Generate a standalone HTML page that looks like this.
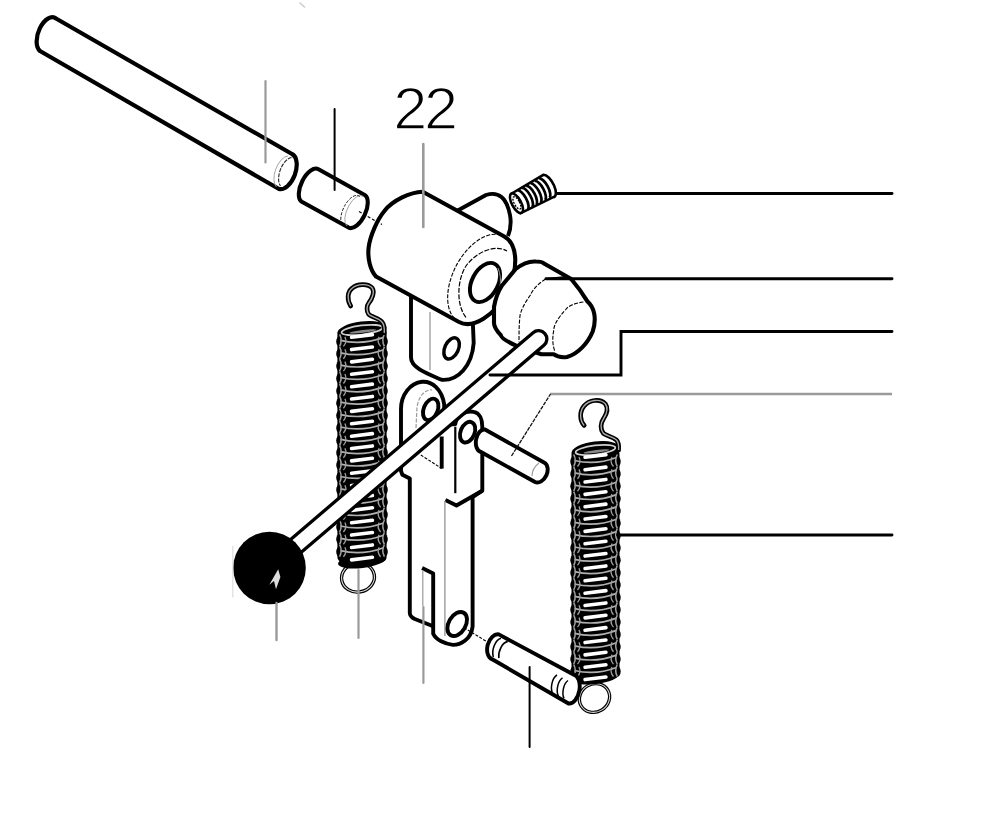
<!DOCTYPE html>
<html><head><meta charset="utf-8"><style>
html,body{margin:0;padding:0;background:#fff;}
body{width:1000px;height:813px;overflow:hidden;position:relative;font-family:"Liberation Sans",sans-serif;}
svg{position:absolute;left:0;top:0;}
</style></head><body>
<svg width="1000" height="813" viewBox="0 0 1000 813">
<path d="M56,18.5 L292,154 A10.5 18.7 20.4 0 1 279,189 L40,51 A10 18.2 20.4 0 1 56,18.5 Z" fill="#fff" stroke="#000" stroke-width="4.2" stroke-linejoin="round"/>
<path d="M288,156 A9 17 20.4 0 0 276.5,187" fill="none" stroke="#9a9a9a" stroke-width="0.9"/>
<path d="M291.5,157.5 A8.5 16 20.4 0 0 280.5,186" fill="none" stroke="#222" stroke-width="1.1" stroke-dasharray="4 1.2"/>
<path d="M318.5,169.3 L364.7,195 A9 18.2 25.6 0 1 349,227.8 L301.8,201.8 A9 18.2 25.6 0 1 318.5,169.3 Z" fill="#fff" stroke="#000" stroke-width="4.1" stroke-linejoin="round"/>
<path d="M360,196.5 A8 16 25.6 0 0 343,226" fill="none" stroke="#000" stroke-width="0.9" stroke-dasharray="3 1.5"/>
<path d="M363.5,196.5 A7.5 15.5 25.6 0 0 347,226" fill="none" stroke="#9a9a9a" stroke-width="0.9"/>
<path d="M512.6,193 L543.4,174.8 A5 11.5 -28.4 0 1 553.2,197.2 L520.3,213.3 A5 11.5 -28.4 0 1 512.6,193 Z" fill="#fff" stroke="#000" stroke-width="2.6"/>
<path d="M517.1,190.6 A4.2 10.8 -28.4 0 1 527.4,209.6" fill="none" stroke="#000" stroke-width="2.7"/>
<path d="M521.5,188.2 A4.2 10.8 -28.4 0 1 531.8,207.2" fill="none" stroke="#000" stroke-width="2.7"/>
<path d="M525.9,185.9 A4.2 10.8 -28.4 0 1 536.2,204.8" fill="none" stroke="#000" stroke-width="2.7"/>
<path d="M530.3,183.5 A4.2 10.8 -28.4 0 1 540.5,202.5" fill="none" stroke="#000" stroke-width="2.7"/>
<path d="M534.7,181.1 A4.2 10.8 -28.4 0 1 544.9,200.1" fill="none" stroke="#000" stroke-width="2.7"/>
<path d="M539.1,178.7 A4.2 10.8 -28.4 0 1 549.3,197.7" fill="none" stroke="#000" stroke-width="2.7"/>
<ellipse cx="516.5" cy="203.2" rx="4.6" ry="10.8" transform="rotate(-28.4 516.5 203.2)" fill="#fff" stroke="#000" stroke-width="2.5"/>
<ellipse cx="517.0" cy="203.2" rx="2.7" ry="6.8" transform="rotate(-28.4 516.5 203.2)" fill="none" stroke="#000" stroke-width="1.4" stroke-dasharray="2 1.2"/>
<path d="M455,212 L486,195 Q505,189 510,215 Q512,226 508,236" fill="#fff" stroke="#000" stroke-width="3.9" stroke-linejoin="round"/>
<path d="M411,292 L411,357.6 C411,368 428,374 441.7,379.8 C458,381 472,366 473.7,342.9 L472.5,315 Z" fill="#fff" stroke="#000" stroke-width="3.9" stroke-linejoin="round"/>
<path d="M430,312 L430,370" stroke="#9a9a9a" stroke-width="1.3"/>
<ellipse cx="451.6" cy="348.4" rx="6.8" ry="11.2" transform="rotate(25 451.6 348.4)" fill="#fff" stroke="#000" stroke-width="3.5"/>
<path d="M422.7,191.7 L503.9,236.2 A28.5 48.4 27.6 0 1 459,322 L376,276.5 C370,270 367.5,258 368.6,247.7 C370,236 377,220 384.6,210.8 C392,201 410,192 422.7,191.7 Z" fill="#fff" stroke="#000" stroke-width="4.1" stroke-linejoin="round"/>
<path d="M459,322 A28.5 48.4 27.6 0 1 503.9,236.2" fill="none" stroke="#000" stroke-width="1.1" stroke-dasharray="4 1.5"/>
<path d="M466,317.4 C456,305 457,280 466,266 C476,252 495,244 507,251" fill="none" stroke="#000" stroke-width="1.2" stroke-dasharray="5 1.5"/>
<ellipse cx="485" cy="282.5" rx="13" ry="21" transform="rotate(27.6 485 282.5)" fill="#fff" stroke="#000" stroke-width="3.9"/>
<path d="M498,268 C503,280 500,295 493,302" fill="none" stroke="#9a9a9a" stroke-width="1"/>
<path d="M359,211.6 L382,224.5" stroke="#000" stroke-width="1.1" stroke-dasharray="3 2"/>
<path d="M401,471 L401,409 C401,395 410,383 422,381.8 C432,381 442,389 444.2,404.5 L444,425 L455.3,424 C456,416 466,410 473.7,411.9 C480,413 482.3,420 482.3,426.7 L482.3,490.7 L472.6,497 L472.6,626.4 C471,640 460,645 452.9,644.9 C445,644 436,640 433.2,633.8 L433.2,626.4 L430.7,625.2 L414.8,619 C411,617 409.8,615 409.8,612.9 L409.8,478.5 L402.4,474.8 Z" fill="#fff" stroke="#000" stroke-width="3.9" stroke-linejoin="round"/>
<path d="M416,428 L417,407 C419,396 424,390 431.9,389.8" fill="none" stroke="#9a9a9a" stroke-width="1.2" stroke-dasharray="4 1.5"/>
<ellipse cx="430.7" cy="409.4" rx="7" ry="11.2" transform="rotate(22 430.7 409.4)" fill="#fff" stroke="#000" stroke-width="3.9"/>
<ellipse cx="467.6" cy="432.2" rx="7" ry="10.8" transform="rotate(22 467.6 432.2)" fill="#fff" stroke="#000" stroke-width="3.9"/>
<path d="M441.7,436.5 L441.7,468.6" stroke="#000" stroke-width="3.9"/>
<path d="M420.8,455 L441.7,468.5" stroke="#000" stroke-width="1.1" stroke-dasharray="3 1.5"/>
<path d="M455.3,426.7 L455.3,493.2" stroke="#000" stroke-width="2.2"/>
<path d="M482.3,490.7 L456.5,505.5 L445.4,500" fill="none" stroke="#000" stroke-width="3.9" stroke-linejoin="round"/>
<path d="M444.9,501 L444.9,636" stroke="#9a9a9a" stroke-width="1.4"/>
<path d="M422.1,568 L433.2,573.5 L433.2,626.4" fill="none" stroke="#000" stroke-width="3.9" stroke-linejoin="round"/>
<path d="M422.8,570 L422.8,606" stroke="#9a9a9a" stroke-width="1.2"/>
<ellipse cx="457.2" cy="624" rx="8.5" ry="13" transform="rotate(30 457.2 624)" fill="#fff" stroke="#000" stroke-width="3.9"/>
<path d="M464,627.7 L486.1,641.2" stroke="#000" stroke-width="1.1" stroke-dasharray="3 1.5"/>
<path d="M485,429.5 L544,462.5 A7.5 10.7 24.8 0 1 535,482 L481,452 A7 11.4 10 0 1 485,429.5 Z" fill="#fff" stroke="#000" stroke-width="3.9" stroke-linejoin="round"/>
<path d="M532,476 C532,471 535,466 539,463" fill="none" stroke="#9a9a9a" stroke-width="1.1"/>
<ellipse cx="358" cy="577.5" rx="16.5" ry="14.5" transform="rotate(-10 358 577.5)" fill="none" stroke="#000" stroke-width="3.4"/>
<ellipse cx="358" cy="577.5" rx="16.5" ry="14.5" transform="rotate(-10 358 577.5)" fill="none" stroke="#ddd" stroke-width="1.1"/>
<ellipse cx="594.5" cy="698" rx="15.5" ry="14" transform="rotate(-30 594.5 698)" fill="none" stroke="#000" stroke-width="3.4"/>
<ellipse cx="594.5" cy="698" rx="15.5" ry="14" transform="rotate(-30 594.5 698)" fill="none" stroke="#ddd" stroke-width="1.1"/>
<rect x="337.4" y="329.0" width="49.2" height="233.0" rx="5" fill="#000"/>
<ellipse cx="362.0" cy="561.0" rx="24.1" ry="7" transform="rotate(-7 362 561.0)" fill="#000"/>
<ellipse cx="362.0" cy="330.0" rx="24.6" ry="8.5" transform="rotate(-7 362 330.0)" fill="#000"/>
<ellipse cx="340.6" cy="341.4" rx="4.4" ry="5.6" fill="#000"/>
<ellipse cx="383.4" cy="341.4" rx="4.4" ry="5.6" fill="#000"/>
<ellipse cx="340.6" cy="353.8" rx="4.4" ry="5.6" fill="#000"/>
<ellipse cx="383.4" cy="353.8" rx="4.4" ry="5.6" fill="#000"/>
<ellipse cx="340.6" cy="366.1" rx="4.4" ry="5.6" fill="#000"/>
<ellipse cx="383.4" cy="366.1" rx="4.4" ry="5.6" fill="#000"/>
<ellipse cx="340.6" cy="378.5" rx="4.4" ry="5.6" fill="#000"/>
<ellipse cx="383.4" cy="378.5" rx="4.4" ry="5.6" fill="#000"/>
<ellipse cx="340.6" cy="390.9" rx="4.4" ry="5.6" fill="#000"/>
<ellipse cx="383.4" cy="390.9" rx="4.4" ry="5.6" fill="#000"/>
<ellipse cx="340.6" cy="403.2" rx="4.4" ry="5.6" fill="#000"/>
<ellipse cx="383.4" cy="403.2" rx="4.4" ry="5.6" fill="#000"/>
<ellipse cx="340.6" cy="415.6" rx="4.4" ry="5.6" fill="#000"/>
<ellipse cx="383.4" cy="415.6" rx="4.4" ry="5.6" fill="#000"/>
<ellipse cx="340.6" cy="428.0" rx="4.4" ry="5.6" fill="#000"/>
<ellipse cx="383.4" cy="428.0" rx="4.4" ry="5.6" fill="#000"/>
<ellipse cx="340.6" cy="440.4" rx="4.4" ry="5.6" fill="#000"/>
<ellipse cx="383.4" cy="440.4" rx="4.4" ry="5.6" fill="#000"/>
<ellipse cx="340.6" cy="452.7" rx="4.4" ry="5.6" fill="#000"/>
<ellipse cx="383.4" cy="452.7" rx="4.4" ry="5.6" fill="#000"/>
<ellipse cx="340.6" cy="465.1" rx="4.4" ry="5.6" fill="#000"/>
<ellipse cx="383.4" cy="465.1" rx="4.4" ry="5.6" fill="#000"/>
<ellipse cx="340.6" cy="477.5" rx="4.4" ry="5.6" fill="#000"/>
<ellipse cx="383.4" cy="477.5" rx="4.4" ry="5.6" fill="#000"/>
<ellipse cx="340.6" cy="489.8" rx="4.4" ry="5.6" fill="#000"/>
<ellipse cx="383.4" cy="489.8" rx="4.4" ry="5.6" fill="#000"/>
<ellipse cx="340.6" cy="502.2" rx="4.4" ry="5.6" fill="#000"/>
<ellipse cx="383.4" cy="502.2" rx="4.4" ry="5.6" fill="#000"/>
<ellipse cx="340.6" cy="514.6" rx="4.4" ry="5.6" fill="#000"/>
<ellipse cx="383.4" cy="514.6" rx="4.4" ry="5.6" fill="#000"/>
<ellipse cx="340.6" cy="527.0" rx="4.4" ry="5.6" fill="#000"/>
<ellipse cx="383.4" cy="527.0" rx="4.4" ry="5.6" fill="#000"/>
<ellipse cx="340.6" cy="539.3" rx="4.4" ry="5.6" fill="#000"/>
<ellipse cx="383.4" cy="539.3" rx="4.4" ry="5.6" fill="#000"/>
<ellipse cx="340.6" cy="551.7" rx="4.4" ry="5.6" fill="#000"/>
<ellipse cx="383.4" cy="551.7" rx="4.4" ry="5.6" fill="#000"/>
<ellipse cx="362.0" cy="330.0" rx="20.6" ry="4.6" transform="rotate(-7 362 330.0)" fill="none" stroke="#d0d0d0" stroke-width="1.8"/>
<ellipse cx="363.0" cy="331.5" rx="13.6" ry="1.4" transform="rotate(-7 362 331.5)" fill="#888"/>
<rect x="349.7" y="334.1" width="24.6" height="3.6" rx="1.8" transform="rotate(-7 362 335.9)" fill="#fff"/>
<path d="M340.4,340.4 Q362.0,345.4 383.6,337.4" fill="none" stroke="#b0b0b0" stroke-width="1.7"/>
<path d="M339.6,334.4 Q342.8,340.4 339.6,346.4" fill="none" stroke="#a0a0a0" stroke-width="1.5"/>
<path d="M344.9,336.9 Q347.4,341.9 343.4,346.4" fill="none" stroke="#a0a0a0" stroke-width="1.3"/>
<path d="M384.4,334.4 Q381.2,340.4 384.4,346.4" fill="none" stroke="#a0a0a0" stroke-width="1.5"/>
<path d="M379.1,336.9 Q376.6,341.9 380.6,346.4" fill="none" stroke="#a0a0a0" stroke-width="1.3"/>
<rect x="349.7" y="346.5" width="24.6" height="3.6" rx="1.8" transform="rotate(-7 362 348.3)" fill="#fff"/>
<path d="M340.4,352.8 Q362.0,357.8 383.6,349.8" fill="none" stroke="#b0b0b0" stroke-width="1.7"/>
<path d="M339.6,346.8 Q342.8,352.8 339.6,358.8" fill="none" stroke="#a0a0a0" stroke-width="1.5"/>
<path d="M344.9,349.3 Q347.4,354.3 343.4,358.8" fill="none" stroke="#a0a0a0" stroke-width="1.3"/>
<path d="M384.4,346.8 Q381.2,352.8 384.4,358.8" fill="none" stroke="#a0a0a0" stroke-width="1.5"/>
<path d="M379.1,349.3 Q376.6,354.3 380.6,358.8" fill="none" stroke="#a0a0a0" stroke-width="1.3"/>
<rect x="349.7" y="358.8" width="24.6" height="3.6" rx="1.8" transform="rotate(-7 362 360.6)" fill="#fff"/>
<path d="M340.4,365.1 Q362.0,370.1 383.6,362.1" fill="none" stroke="#b0b0b0" stroke-width="1.7"/>
<path d="M339.6,359.1 Q342.8,365.1 339.6,371.1" fill="none" stroke="#a0a0a0" stroke-width="1.5"/>
<path d="M344.9,361.6 Q347.4,366.6 343.4,371.1" fill="none" stroke="#a0a0a0" stroke-width="1.3"/>
<path d="M384.4,359.1 Q381.2,365.1 384.4,371.1" fill="none" stroke="#a0a0a0" stroke-width="1.5"/>
<path d="M379.1,361.6 Q376.6,366.6 380.6,371.1" fill="none" stroke="#a0a0a0" stroke-width="1.3"/>
<rect x="349.7" y="371.2" width="24.6" height="3.6" rx="1.8" transform="rotate(-7 362 373.0)" fill="#fff"/>
<path d="M340.4,377.5 Q362.0,382.5 383.6,374.5" fill="none" stroke="#b0b0b0" stroke-width="1.7"/>
<path d="M339.6,371.5 Q342.8,377.5 339.6,383.5" fill="none" stroke="#a0a0a0" stroke-width="1.5"/>
<path d="M344.9,374.0 Q347.4,379.0 343.4,383.5" fill="none" stroke="#a0a0a0" stroke-width="1.3"/>
<path d="M384.4,371.5 Q381.2,377.5 384.4,383.5" fill="none" stroke="#a0a0a0" stroke-width="1.5"/>
<path d="M379.1,374.0 Q376.6,379.0 380.6,383.5" fill="none" stroke="#a0a0a0" stroke-width="1.3"/>
<rect x="349.7" y="383.6" width="24.6" height="3.6" rx="1.8" transform="rotate(-7 362 385.4)" fill="#fff"/>
<path d="M340.4,389.9 Q362.0,394.9 383.6,386.9" fill="none" stroke="#b0b0b0" stroke-width="1.7"/>
<path d="M339.6,383.9 Q342.8,389.9 339.6,395.9" fill="none" stroke="#a0a0a0" stroke-width="1.5"/>
<path d="M344.9,386.4 Q347.4,391.4 343.4,395.9" fill="none" stroke="#a0a0a0" stroke-width="1.3"/>
<path d="M384.4,383.9 Q381.2,389.9 384.4,395.9" fill="none" stroke="#a0a0a0" stroke-width="1.5"/>
<path d="M379.1,386.4 Q376.6,391.4 380.6,395.9" fill="none" stroke="#a0a0a0" stroke-width="1.3"/>
<rect x="349.7" y="395.9" width="24.6" height="3.6" rx="1.8" transform="rotate(-7 362 397.8)" fill="#fff"/>
<path d="M340.4,402.2 Q362.0,407.2 383.6,399.2" fill="none" stroke="#b0b0b0" stroke-width="1.7"/>
<path d="M339.6,396.2 Q342.8,402.2 339.6,408.2" fill="none" stroke="#a0a0a0" stroke-width="1.5"/>
<path d="M344.9,398.8 Q347.4,403.8 343.4,408.2" fill="none" stroke="#a0a0a0" stroke-width="1.3"/>
<path d="M384.4,396.2 Q381.2,402.2 384.4,408.2" fill="none" stroke="#a0a0a0" stroke-width="1.5"/>
<path d="M379.1,398.8 Q376.6,403.8 380.6,408.2" fill="none" stroke="#a0a0a0" stroke-width="1.3"/>
<rect x="349.7" y="408.3" width="24.6" height="3.6" rx="1.8" transform="rotate(-7 362 410.1)" fill="#fff"/>
<path d="M340.4,414.6 Q362.0,419.6 383.6,411.6" fill="none" stroke="#b0b0b0" stroke-width="1.7"/>
<path d="M339.6,408.6 Q342.8,414.6 339.6,420.6" fill="none" stroke="#a0a0a0" stroke-width="1.5"/>
<path d="M344.9,411.1 Q347.4,416.1 343.4,420.6" fill="none" stroke="#a0a0a0" stroke-width="1.3"/>
<path d="M384.4,408.6 Q381.2,414.6 384.4,420.6" fill="none" stroke="#a0a0a0" stroke-width="1.5"/>
<path d="M379.1,411.1 Q376.6,416.1 380.6,420.6" fill="none" stroke="#a0a0a0" stroke-width="1.3"/>
<rect x="349.7" y="420.7" width="24.6" height="3.6" rx="1.8" transform="rotate(-7 362 422.5)" fill="#fff"/>
<path d="M340.4,427.0 Q362.0,432.0 383.6,424.0" fill="none" stroke="#b0b0b0" stroke-width="1.7"/>
<path d="M339.6,421.0 Q342.8,427.0 339.6,433.0" fill="none" stroke="#a0a0a0" stroke-width="1.5"/>
<path d="M344.9,423.5 Q347.4,428.5 343.4,433.0" fill="none" stroke="#a0a0a0" stroke-width="1.3"/>
<path d="M384.4,421.0 Q381.2,427.0 384.4,433.0" fill="none" stroke="#a0a0a0" stroke-width="1.5"/>
<path d="M379.1,423.5 Q376.6,428.5 380.6,433.0" fill="none" stroke="#a0a0a0" stroke-width="1.3"/>
<rect x="349.7" y="433.1" width="24.6" height="3.6" rx="1.8" transform="rotate(-7 362 434.9)" fill="#fff"/>
<path d="M340.4,439.4 Q362.0,444.4 383.6,436.4" fill="none" stroke="#b0b0b0" stroke-width="1.7"/>
<path d="M339.6,433.4 Q342.8,439.4 339.6,445.4" fill="none" stroke="#a0a0a0" stroke-width="1.5"/>
<path d="M344.9,435.9 Q347.4,440.9 343.4,445.4" fill="none" stroke="#a0a0a0" stroke-width="1.3"/>
<path d="M384.4,433.4 Q381.2,439.4 384.4,445.4" fill="none" stroke="#a0a0a0" stroke-width="1.5"/>
<path d="M379.1,435.9 Q376.6,440.9 380.6,445.4" fill="none" stroke="#a0a0a0" stroke-width="1.3"/>
<rect x="349.7" y="445.4" width="24.6" height="3.6" rx="1.8" transform="rotate(-7 362 447.2)" fill="#fff"/>
<path d="M340.4,451.7 Q362.0,456.7 383.6,448.7" fill="none" stroke="#b0b0b0" stroke-width="1.7"/>
<path d="M339.6,445.7 Q342.8,451.7 339.6,457.7" fill="none" stroke="#a0a0a0" stroke-width="1.5"/>
<path d="M344.9,448.2 Q347.4,453.2 343.4,457.7" fill="none" stroke="#a0a0a0" stroke-width="1.3"/>
<path d="M384.4,445.7 Q381.2,451.7 384.4,457.7" fill="none" stroke="#a0a0a0" stroke-width="1.5"/>
<path d="M379.1,448.2 Q376.6,453.2 380.6,457.7" fill="none" stroke="#a0a0a0" stroke-width="1.3"/>
<rect x="349.7" y="457.8" width="24.6" height="3.6" rx="1.8" transform="rotate(-7 362 459.6)" fill="#fff"/>
<path d="M340.4,464.1 Q362.0,469.1 383.6,461.1" fill="none" stroke="#b0b0b0" stroke-width="1.7"/>
<path d="M339.6,458.1 Q342.8,464.1 339.6,470.1" fill="none" stroke="#a0a0a0" stroke-width="1.5"/>
<path d="M344.9,460.6 Q347.4,465.6 343.4,470.1" fill="none" stroke="#a0a0a0" stroke-width="1.3"/>
<path d="M384.4,458.1 Q381.2,464.1 384.4,470.1" fill="none" stroke="#a0a0a0" stroke-width="1.5"/>
<path d="M379.1,460.6 Q376.6,465.6 380.6,470.1" fill="none" stroke="#a0a0a0" stroke-width="1.3"/>
<rect x="349.7" y="470.2" width="24.6" height="3.6" rx="1.8" transform="rotate(-7 362 472.0)" fill="#fff"/>
<path d="M340.4,476.5 Q362.0,481.5 383.6,473.5" fill="none" stroke="#b0b0b0" stroke-width="1.7"/>
<path d="M339.6,470.5 Q342.8,476.5 339.6,482.5" fill="none" stroke="#a0a0a0" stroke-width="1.5"/>
<path d="M344.9,473.0 Q347.4,478.0 343.4,482.5" fill="none" stroke="#a0a0a0" stroke-width="1.3"/>
<path d="M384.4,470.5 Q381.2,476.5 384.4,482.5" fill="none" stroke="#a0a0a0" stroke-width="1.5"/>
<path d="M379.1,473.0 Q376.6,478.0 380.6,482.5" fill="none" stroke="#a0a0a0" stroke-width="1.3"/>
<rect x="349.7" y="482.5" width="24.6" height="3.6" rx="1.8" transform="rotate(-7 362 484.3)" fill="#fff"/>
<path d="M340.4,488.8 Q362.0,493.8 383.6,485.8" fill="none" stroke="#b0b0b0" stroke-width="1.7"/>
<path d="M339.6,482.8 Q342.8,488.8 339.6,494.8" fill="none" stroke="#a0a0a0" stroke-width="1.5"/>
<path d="M344.9,485.3 Q347.4,490.3 343.4,494.8" fill="none" stroke="#a0a0a0" stroke-width="1.3"/>
<path d="M384.4,482.8 Q381.2,488.8 384.4,494.8" fill="none" stroke="#a0a0a0" stroke-width="1.5"/>
<path d="M379.1,485.3 Q376.6,490.3 380.6,494.8" fill="none" stroke="#a0a0a0" stroke-width="1.3"/>
<rect x="349.7" y="494.9" width="24.6" height="3.6" rx="1.8" transform="rotate(-7 362 496.7)" fill="#fff"/>
<path d="M340.4,501.2 Q362.0,506.2 383.6,498.2" fill="none" stroke="#b0b0b0" stroke-width="1.7"/>
<path d="M339.6,495.2 Q342.8,501.2 339.6,507.2" fill="none" stroke="#a0a0a0" stroke-width="1.5"/>
<path d="M344.9,497.7 Q347.4,502.7 343.4,507.2" fill="none" stroke="#a0a0a0" stroke-width="1.3"/>
<path d="M384.4,495.2 Q381.2,501.2 384.4,507.2" fill="none" stroke="#a0a0a0" stroke-width="1.5"/>
<path d="M379.1,497.7 Q376.6,502.7 380.6,507.2" fill="none" stroke="#a0a0a0" stroke-width="1.3"/>
<rect x="349.7" y="507.3" width="24.6" height="3.6" rx="1.8" transform="rotate(-7 362 509.1)" fill="#fff"/>
<path d="M340.4,513.6 Q362.0,518.6 383.6,510.6" fill="none" stroke="#b0b0b0" stroke-width="1.7"/>
<path d="M339.6,507.6 Q342.8,513.6 339.6,519.6" fill="none" stroke="#a0a0a0" stroke-width="1.5"/>
<path d="M344.9,510.1 Q347.4,515.1 343.4,519.6" fill="none" stroke="#a0a0a0" stroke-width="1.3"/>
<path d="M384.4,507.6 Q381.2,513.6 384.4,519.6" fill="none" stroke="#a0a0a0" stroke-width="1.5"/>
<path d="M379.1,510.1 Q376.6,515.1 380.6,519.6" fill="none" stroke="#a0a0a0" stroke-width="1.3"/>
<rect x="349.7" y="519.7" width="24.6" height="3.6" rx="1.8" transform="rotate(-7 362 521.5)" fill="#fff"/>
<path d="M340.4,526.0 Q362.0,531.0 383.6,523.0" fill="none" stroke="#b0b0b0" stroke-width="1.7"/>
<path d="M339.6,520.0 Q342.8,526.0 339.6,532.0" fill="none" stroke="#a0a0a0" stroke-width="1.5"/>
<path d="M344.9,522.5 Q347.4,527.5 343.4,532.0" fill="none" stroke="#a0a0a0" stroke-width="1.3"/>
<path d="M384.4,520.0 Q381.2,526.0 384.4,532.0" fill="none" stroke="#a0a0a0" stroke-width="1.5"/>
<path d="M379.1,522.5 Q376.6,527.5 380.6,532.0" fill="none" stroke="#a0a0a0" stroke-width="1.3"/>
<rect x="349.7" y="532.0" width="24.6" height="3.6" rx="1.8" transform="rotate(-7 362 533.8)" fill="#fff"/>
<path d="M340.4,538.3 Q362.0,543.3 383.6,535.3" fill="none" stroke="#b0b0b0" stroke-width="1.7"/>
<path d="M339.6,532.3 Q342.8,538.3 339.6,544.3" fill="none" stroke="#a0a0a0" stroke-width="1.5"/>
<path d="M344.9,534.8 Q347.4,539.8 343.4,544.3" fill="none" stroke="#a0a0a0" stroke-width="1.3"/>
<path d="M384.4,532.3 Q381.2,538.3 384.4,544.3" fill="none" stroke="#a0a0a0" stroke-width="1.5"/>
<path d="M379.1,534.8 Q376.6,539.8 380.6,544.3" fill="none" stroke="#a0a0a0" stroke-width="1.3"/>
<rect x="349.7" y="544.4" width="24.6" height="3.6" rx="1.8" transform="rotate(-7 362 546.2)" fill="#fff"/>
<path d="M340.4,550.7 Q362.0,555.7 383.6,547.7" fill="none" stroke="#b0b0b0" stroke-width="1.7"/>
<path d="M339.6,544.7 Q342.8,550.7 339.6,556.7" fill="none" stroke="#a0a0a0" stroke-width="1.5"/>
<path d="M344.9,547.2 Q347.4,552.2 343.4,556.7" fill="none" stroke="#a0a0a0" stroke-width="1.3"/>
<path d="M384.4,544.7 Q381.2,550.7 384.4,556.7" fill="none" stroke="#a0a0a0" stroke-width="1.5"/>
<path d="M379.1,547.2 Q376.6,552.2 380.6,556.7" fill="none" stroke="#a0a0a0" stroke-width="1.3"/>
<rect x="349.7" y="556.8" width="24.6" height="3.6" rx="1.8" transform="rotate(-7 362 558.6)" fill="#fff"/>
<rect x="571.5" y="449.0" width="48.0" height="229.0" rx="5" fill="#000"/>
<ellipse cx="595.5" cy="677.0" rx="23.5" ry="7" transform="rotate(-7 595.5 677.0)" fill="#000"/>
<ellipse cx="595.5" cy="450.0" rx="24.0" ry="8.5" transform="rotate(-7 595.5 450.0)" fill="#000"/>
<ellipse cx="574.7" cy="461.5" rx="4.4" ry="5.6" fill="#000"/>
<ellipse cx="616.3" cy="461.5" rx="4.4" ry="5.6" fill="#000"/>
<ellipse cx="574.7" cy="473.9" rx="4.4" ry="5.6" fill="#000"/>
<ellipse cx="616.3" cy="473.9" rx="4.4" ry="5.6" fill="#000"/>
<ellipse cx="574.7" cy="486.2" rx="4.4" ry="5.6" fill="#000"/>
<ellipse cx="616.3" cy="486.2" rx="4.4" ry="5.6" fill="#000"/>
<ellipse cx="574.7" cy="498.6" rx="4.4" ry="5.6" fill="#000"/>
<ellipse cx="616.3" cy="498.6" rx="4.4" ry="5.6" fill="#000"/>
<ellipse cx="574.7" cy="510.9" rx="4.4" ry="5.6" fill="#000"/>
<ellipse cx="616.3" cy="510.9" rx="4.4" ry="5.6" fill="#000"/>
<ellipse cx="574.7" cy="523.3" rx="4.4" ry="5.6" fill="#000"/>
<ellipse cx="616.3" cy="523.3" rx="4.4" ry="5.6" fill="#000"/>
<ellipse cx="574.7" cy="535.6" rx="4.4" ry="5.6" fill="#000"/>
<ellipse cx="616.3" cy="535.6" rx="4.4" ry="5.6" fill="#000"/>
<ellipse cx="574.7" cy="548.0" rx="4.4" ry="5.6" fill="#000"/>
<ellipse cx="616.3" cy="548.0" rx="4.4" ry="5.6" fill="#000"/>
<ellipse cx="574.7" cy="560.3" rx="4.4" ry="5.6" fill="#000"/>
<ellipse cx="616.3" cy="560.3" rx="4.4" ry="5.6" fill="#000"/>
<ellipse cx="574.7" cy="572.7" rx="4.4" ry="5.6" fill="#000"/>
<ellipse cx="616.3" cy="572.7" rx="4.4" ry="5.6" fill="#000"/>
<ellipse cx="574.7" cy="585.0" rx="4.4" ry="5.6" fill="#000"/>
<ellipse cx="616.3" cy="585.0" rx="4.4" ry="5.6" fill="#000"/>
<ellipse cx="574.7" cy="597.4" rx="4.4" ry="5.6" fill="#000"/>
<ellipse cx="616.3" cy="597.4" rx="4.4" ry="5.6" fill="#000"/>
<ellipse cx="574.7" cy="609.7" rx="4.4" ry="5.6" fill="#000"/>
<ellipse cx="616.3" cy="609.7" rx="4.4" ry="5.6" fill="#000"/>
<ellipse cx="574.7" cy="622.1" rx="4.4" ry="5.6" fill="#000"/>
<ellipse cx="616.3" cy="622.1" rx="4.4" ry="5.6" fill="#000"/>
<ellipse cx="574.7" cy="634.4" rx="4.4" ry="5.6" fill="#000"/>
<ellipse cx="616.3" cy="634.4" rx="4.4" ry="5.6" fill="#000"/>
<ellipse cx="574.7" cy="646.8" rx="4.4" ry="5.6" fill="#000"/>
<ellipse cx="616.3" cy="646.8" rx="4.4" ry="5.6" fill="#000"/>
<ellipse cx="574.7" cy="659.1" rx="4.4" ry="5.6" fill="#000"/>
<ellipse cx="616.3" cy="659.1" rx="4.4" ry="5.6" fill="#000"/>
<ellipse cx="574.7" cy="671.5" rx="4.4" ry="5.6" fill="#000"/>
<ellipse cx="616.3" cy="671.5" rx="4.4" ry="5.6" fill="#000"/>
<ellipse cx="595.5" cy="450.0" rx="20.0" ry="4.6" transform="rotate(-7 595.5 450.0)" fill="none" stroke="#d0d0d0" stroke-width="1.8"/>
<ellipse cx="596.5" cy="451.5" rx="13.0" ry="1.4" transform="rotate(-7 595.5 451.5)" fill="#888"/>
<rect x="583.2" y="454.2" width="24.6" height="3.6" rx="1.8" transform="rotate(-7 595.5 456.0)" fill="#fff"/>
<path d="M574.5,460.5 Q595.5,465.5 616.5,457.5" fill="none" stroke="#b0b0b0" stroke-width="1.7"/>
<path d="M573.7,454.5 Q576.9,460.5 573.7,466.5" fill="none" stroke="#a0a0a0" stroke-width="1.5"/>
<path d="M579.0,457.0 Q581.5,462.0 577.5,466.5" fill="none" stroke="#a0a0a0" stroke-width="1.3"/>
<path d="M617.3,454.5 Q614.1,460.5 617.3,466.5" fill="none" stroke="#a0a0a0" stroke-width="1.5"/>
<path d="M612.0,457.0 Q609.5,462.0 613.5,466.5" fill="none" stroke="#a0a0a0" stroke-width="1.3"/>
<rect x="583.2" y="466.6" width="24.6" height="3.6" rx="1.8" transform="rotate(-7 595.5 468.4)" fill="#fff"/>
<path d="M574.5,472.9 Q595.5,477.9 616.5,469.9" fill="none" stroke="#b0b0b0" stroke-width="1.7"/>
<path d="M573.7,466.9 Q576.9,472.9 573.7,478.9" fill="none" stroke="#a0a0a0" stroke-width="1.5"/>
<path d="M579.0,469.4 Q581.5,474.4 577.5,478.9" fill="none" stroke="#a0a0a0" stroke-width="1.3"/>
<path d="M617.3,466.9 Q614.1,472.9 617.3,478.9" fill="none" stroke="#a0a0a0" stroke-width="1.5"/>
<path d="M612.0,469.4 Q609.5,474.4 613.5,478.9" fill="none" stroke="#a0a0a0" stroke-width="1.3"/>
<rect x="583.2" y="478.9" width="24.6" height="3.6" rx="1.8" transform="rotate(-7 595.5 480.7)" fill="#fff"/>
<path d="M574.5,485.2 Q595.5,490.2 616.5,482.2" fill="none" stroke="#b0b0b0" stroke-width="1.7"/>
<path d="M573.7,479.2 Q576.9,485.2 573.7,491.2" fill="none" stroke="#a0a0a0" stroke-width="1.5"/>
<path d="M579.0,481.7 Q581.5,486.7 577.5,491.2" fill="none" stroke="#a0a0a0" stroke-width="1.3"/>
<path d="M617.3,479.2 Q614.1,485.2 617.3,491.2" fill="none" stroke="#a0a0a0" stroke-width="1.5"/>
<path d="M612.0,481.7 Q609.5,486.7 613.5,491.2" fill="none" stroke="#a0a0a0" stroke-width="1.3"/>
<rect x="583.2" y="491.3" width="24.6" height="3.6" rx="1.8" transform="rotate(-7 595.5 493.1)" fill="#fff"/>
<path d="M574.5,497.6 Q595.5,502.6 616.5,494.6" fill="none" stroke="#b0b0b0" stroke-width="1.7"/>
<path d="M573.7,491.6 Q576.9,497.6 573.7,503.6" fill="none" stroke="#a0a0a0" stroke-width="1.5"/>
<path d="M579.0,494.1 Q581.5,499.1 577.5,503.6" fill="none" stroke="#a0a0a0" stroke-width="1.3"/>
<path d="M617.3,491.6 Q614.1,497.6 617.3,503.6" fill="none" stroke="#a0a0a0" stroke-width="1.5"/>
<path d="M612.0,494.1 Q609.5,499.1 613.5,503.6" fill="none" stroke="#a0a0a0" stroke-width="1.3"/>
<rect x="583.2" y="503.6" width="24.6" height="3.6" rx="1.8" transform="rotate(-7 595.5 505.4)" fill="#fff"/>
<path d="M574.5,509.9 Q595.5,514.9 616.5,506.9" fill="none" stroke="#b0b0b0" stroke-width="1.7"/>
<path d="M573.7,503.9 Q576.9,509.9 573.7,515.9" fill="none" stroke="#a0a0a0" stroke-width="1.5"/>
<path d="M579.0,506.4 Q581.5,511.4 577.5,515.9" fill="none" stroke="#a0a0a0" stroke-width="1.3"/>
<path d="M617.3,503.9 Q614.1,509.9 617.3,515.9" fill="none" stroke="#a0a0a0" stroke-width="1.5"/>
<path d="M612.0,506.4 Q609.5,511.4 613.5,515.9" fill="none" stroke="#a0a0a0" stroke-width="1.3"/>
<rect x="583.2" y="516.0" width="24.6" height="3.6" rx="1.8" transform="rotate(-7 595.5 517.8)" fill="#fff"/>
<path d="M574.5,522.3 Q595.5,527.3 616.5,519.3" fill="none" stroke="#b0b0b0" stroke-width="1.7"/>
<path d="M573.7,516.3 Q576.9,522.3 573.7,528.3" fill="none" stroke="#a0a0a0" stroke-width="1.5"/>
<path d="M579.0,518.8 Q581.5,523.8 577.5,528.3" fill="none" stroke="#a0a0a0" stroke-width="1.3"/>
<path d="M617.3,516.3 Q614.1,522.3 617.3,528.3" fill="none" stroke="#a0a0a0" stroke-width="1.5"/>
<path d="M612.0,518.8 Q609.5,523.8 613.5,528.3" fill="none" stroke="#a0a0a0" stroke-width="1.3"/>
<rect x="583.2" y="528.3" width="24.6" height="3.6" rx="1.8" transform="rotate(-7 595.5 530.1)" fill="#fff"/>
<path d="M574.5,534.6 Q595.5,539.6 616.5,531.6" fill="none" stroke="#b0b0b0" stroke-width="1.7"/>
<path d="M573.7,528.6 Q576.9,534.6 573.7,540.6" fill="none" stroke="#a0a0a0" stroke-width="1.5"/>
<path d="M579.0,531.1 Q581.5,536.1 577.5,540.6" fill="none" stroke="#a0a0a0" stroke-width="1.3"/>
<path d="M617.3,528.6 Q614.1,534.6 617.3,540.6" fill="none" stroke="#a0a0a0" stroke-width="1.5"/>
<path d="M612.0,531.1 Q609.5,536.1 613.5,540.6" fill="none" stroke="#a0a0a0" stroke-width="1.3"/>
<rect x="583.2" y="540.7" width="24.6" height="3.6" rx="1.8" transform="rotate(-7 595.5 542.5)" fill="#fff"/>
<path d="M574.5,547.0 Q595.5,552.0 616.5,544.0" fill="none" stroke="#b0b0b0" stroke-width="1.7"/>
<path d="M573.7,541.0 Q576.9,547.0 573.7,553.0" fill="none" stroke="#a0a0a0" stroke-width="1.5"/>
<path d="M579.0,543.5 Q581.5,548.5 577.5,553.0" fill="none" stroke="#a0a0a0" stroke-width="1.3"/>
<path d="M617.3,541.0 Q614.1,547.0 617.3,553.0" fill="none" stroke="#a0a0a0" stroke-width="1.5"/>
<path d="M612.0,543.5 Q609.5,548.5 613.5,553.0" fill="none" stroke="#a0a0a0" stroke-width="1.3"/>
<rect x="583.2" y="553.0" width="24.6" height="3.6" rx="1.8" transform="rotate(-7 595.5 554.8)" fill="#fff"/>
<path d="M574.5,559.3 Q595.5,564.3 616.5,556.3" fill="none" stroke="#b0b0b0" stroke-width="1.7"/>
<path d="M573.7,553.3 Q576.9,559.3 573.7,565.3" fill="none" stroke="#a0a0a0" stroke-width="1.5"/>
<path d="M579.0,555.8 Q581.5,560.8 577.5,565.3" fill="none" stroke="#a0a0a0" stroke-width="1.3"/>
<path d="M617.3,553.3 Q614.1,559.3 617.3,565.3" fill="none" stroke="#a0a0a0" stroke-width="1.5"/>
<path d="M612.0,555.8 Q609.5,560.8 613.5,565.3" fill="none" stroke="#a0a0a0" stroke-width="1.3"/>
<rect x="583.2" y="565.4" width="24.6" height="3.6" rx="1.8" transform="rotate(-7 595.5 567.2)" fill="#fff"/>
<path d="M574.5,571.7 Q595.5,576.7 616.5,568.7" fill="none" stroke="#b0b0b0" stroke-width="1.7"/>
<path d="M573.7,565.7 Q576.9,571.7 573.7,577.7" fill="none" stroke="#a0a0a0" stroke-width="1.5"/>
<path d="M579.0,568.2 Q581.5,573.2 577.5,577.7" fill="none" stroke="#a0a0a0" stroke-width="1.3"/>
<path d="M617.3,565.7 Q614.1,571.7 617.3,577.7" fill="none" stroke="#a0a0a0" stroke-width="1.5"/>
<path d="M612.0,568.2 Q609.5,573.2 613.5,577.7" fill="none" stroke="#a0a0a0" stroke-width="1.3"/>
<rect x="583.2" y="577.7" width="24.6" height="3.6" rx="1.8" transform="rotate(-7 595.5 579.5)" fill="#fff"/>
<path d="M574.5,584.0 Q595.5,589.0 616.5,581.0" fill="none" stroke="#b0b0b0" stroke-width="1.7"/>
<path d="M573.7,578.0 Q576.9,584.0 573.7,590.0" fill="none" stroke="#a0a0a0" stroke-width="1.5"/>
<path d="M579.0,580.5 Q581.5,585.5 577.5,590.0" fill="none" stroke="#a0a0a0" stroke-width="1.3"/>
<path d="M617.3,578.0 Q614.1,584.0 617.3,590.0" fill="none" stroke="#a0a0a0" stroke-width="1.5"/>
<path d="M612.0,580.5 Q609.5,585.5 613.5,590.0" fill="none" stroke="#a0a0a0" stroke-width="1.3"/>
<rect x="583.2" y="590.1" width="24.6" height="3.6" rx="1.8" transform="rotate(-7 595.5 591.9)" fill="#fff"/>
<path d="M574.5,596.4 Q595.5,601.4 616.5,593.4" fill="none" stroke="#b0b0b0" stroke-width="1.7"/>
<path d="M573.7,590.4 Q576.9,596.4 573.7,602.4" fill="none" stroke="#a0a0a0" stroke-width="1.5"/>
<path d="M579.0,592.9 Q581.5,597.9 577.5,602.4" fill="none" stroke="#a0a0a0" stroke-width="1.3"/>
<path d="M617.3,590.4 Q614.1,596.4 617.3,602.4" fill="none" stroke="#a0a0a0" stroke-width="1.5"/>
<path d="M612.0,592.9 Q609.5,597.9 613.5,602.4" fill="none" stroke="#a0a0a0" stroke-width="1.3"/>
<rect x="583.2" y="602.4" width="24.6" height="3.6" rx="1.8" transform="rotate(-7 595.5 604.2)" fill="#fff"/>
<path d="M574.5,608.7 Q595.5,613.7 616.5,605.7" fill="none" stroke="#b0b0b0" stroke-width="1.7"/>
<path d="M573.7,602.7 Q576.9,608.7 573.7,614.7" fill="none" stroke="#a0a0a0" stroke-width="1.5"/>
<path d="M579.0,605.2 Q581.5,610.2 577.5,614.7" fill="none" stroke="#a0a0a0" stroke-width="1.3"/>
<path d="M617.3,602.7 Q614.1,608.7 617.3,614.7" fill="none" stroke="#a0a0a0" stroke-width="1.5"/>
<path d="M612.0,605.2 Q609.5,610.2 613.5,614.7" fill="none" stroke="#a0a0a0" stroke-width="1.3"/>
<rect x="583.2" y="614.8" width="24.6" height="3.6" rx="1.8" transform="rotate(-7 595.5 616.6)" fill="#fff"/>
<path d="M574.5,621.1 Q595.5,626.1 616.5,618.1" fill="none" stroke="#b0b0b0" stroke-width="1.7"/>
<path d="M573.7,615.1 Q576.9,621.1 573.7,627.1" fill="none" stroke="#a0a0a0" stroke-width="1.5"/>
<path d="M579.0,617.6 Q581.5,622.6 577.5,627.1" fill="none" stroke="#a0a0a0" stroke-width="1.3"/>
<path d="M617.3,615.1 Q614.1,621.1 617.3,627.1" fill="none" stroke="#a0a0a0" stroke-width="1.5"/>
<path d="M612.0,617.6 Q609.5,622.6 613.5,627.1" fill="none" stroke="#a0a0a0" stroke-width="1.3"/>
<rect x="583.2" y="627.1" width="24.6" height="3.6" rx="1.8" transform="rotate(-7 595.5 628.9)" fill="#fff"/>
<path d="M574.5,633.4 Q595.5,638.4 616.5,630.4" fill="none" stroke="#b0b0b0" stroke-width="1.7"/>
<path d="M573.7,627.4 Q576.9,633.4 573.7,639.4" fill="none" stroke="#a0a0a0" stroke-width="1.5"/>
<path d="M579.0,629.9 Q581.5,634.9 577.5,639.4" fill="none" stroke="#a0a0a0" stroke-width="1.3"/>
<path d="M617.3,627.4 Q614.1,633.4 617.3,639.4" fill="none" stroke="#a0a0a0" stroke-width="1.5"/>
<path d="M612.0,629.9 Q609.5,634.9 613.5,639.4" fill="none" stroke="#a0a0a0" stroke-width="1.3"/>
<rect x="583.2" y="639.5" width="24.6" height="3.6" rx="1.8" transform="rotate(-7 595.5 641.3)" fill="#fff"/>
<path d="M574.5,645.8 Q595.5,650.8 616.5,642.8" fill="none" stroke="#b0b0b0" stroke-width="1.7"/>
<path d="M573.7,639.8 Q576.9,645.8 573.7,651.8" fill="none" stroke="#a0a0a0" stroke-width="1.5"/>
<path d="M579.0,642.3 Q581.5,647.3 577.5,651.8" fill="none" stroke="#a0a0a0" stroke-width="1.3"/>
<path d="M617.3,639.8 Q614.1,645.8 617.3,651.8" fill="none" stroke="#a0a0a0" stroke-width="1.5"/>
<path d="M612.0,642.3 Q609.5,647.3 613.5,651.8" fill="none" stroke="#a0a0a0" stroke-width="1.3"/>
<rect x="583.2" y="651.8" width="24.6" height="3.6" rx="1.8" transform="rotate(-7 595.5 653.6)" fill="#fff"/>
<path d="M574.5,658.1 Q595.5,663.1 616.5,655.1" fill="none" stroke="#b0b0b0" stroke-width="1.7"/>
<path d="M573.7,652.1 Q576.9,658.1 573.7,664.1" fill="none" stroke="#a0a0a0" stroke-width="1.5"/>
<path d="M579.0,654.6 Q581.5,659.6 577.5,664.1" fill="none" stroke="#a0a0a0" stroke-width="1.3"/>
<path d="M617.3,652.1 Q614.1,658.1 617.3,664.1" fill="none" stroke="#a0a0a0" stroke-width="1.5"/>
<path d="M612.0,654.6 Q609.5,659.6 613.5,664.1" fill="none" stroke="#a0a0a0" stroke-width="1.3"/>
<rect x="583.2" y="664.2" width="24.6" height="3.6" rx="1.8" transform="rotate(-7 595.5 666.0)" fill="#fff"/>
<path d="M574.5,670.5 Q595.5,675.5 616.5,667.5" fill="none" stroke="#b0b0b0" stroke-width="1.7"/>
<path d="M573.7,664.5 Q576.9,670.5 573.7,676.5" fill="none" stroke="#a0a0a0" stroke-width="1.5"/>
<path d="M579.0,667.0 Q581.5,672.0 577.5,676.5" fill="none" stroke="#a0a0a0" stroke-width="1.3"/>
<path d="M617.3,664.5 Q614.1,670.5 617.3,676.5" fill="none" stroke="#a0a0a0" stroke-width="1.5"/>
<path d="M612.0,667.0 Q609.5,672.0 613.5,676.5" fill="none" stroke="#a0a0a0" stroke-width="1.3"/>
<rect x="583.2" y="676.5" width="24.6" height="3.6" rx="1.8" transform="rotate(-7 595.5 678.3)" fill="#fff"/>
<path d="M350.7,306 C347,300 347,292 352.4,288 C357,284 368,283 372.2,288 C375,292 372,299 368.8,303 C366.5,306 366.5,311 368.5,314 C371,317 379,318 382,322 C384.5,325 384.5,329 384.3,333" fill="none" stroke="#000" stroke-width="4.7" stroke-linecap="round"/>
<path d="M350.7,306 C347,300 347,292 352.4,288 C357,284 368,283 372.2,288 C375,292 372,299 368.8,303 C366.5,306 366.5,311 368.5,314 C371,317 379,318 382,322 C384.5,325 384.5,329 384.3,333" fill="none" stroke="#aaa" stroke-width="1.4"/>
<path d="M584.2,425.4 C580,421 579,412 584,406 C589,400 600,398 605.5,404 C609,409 606,415 603.4,419 C600.5,423 600,429 603.4,433.4 C606,435.5 613,437 616.2,439.8 C618.5,442 619,445 618.6,450" fill="none" stroke="#000" stroke-width="4.7" stroke-linecap="round"/>
<path d="M584.2,425.4 C580,421 579,412 584,406 C589,400 600,398 605.5,404 C609,409 606,415 603.4,419 C600.5,423 600,429 603.4,433.4 C606,435.5 613,437 616.2,439.8 C618.5,442 619,445 618.6,450" fill="none" stroke="#aaa" stroke-width="1.4"/>
<path d="M498.8,634.4 L573.5,674.5 A8.5 14.7 9.8 0 1 568.5,703.5 L492.2,659.3 A8.5 12.9 14.8 0 1 498.8,634.4 Z" fill="#fff" stroke="#000" stroke-width="3.9" stroke-linejoin="round"/>
<path d="M493.3,657 A7 12 14.8 0 1 501,638.3" fill="none" stroke="#000" stroke-width="1.6"/>
<path d="M498.8,658.2 A7 12 14.8 0 1 507.7,641.6" fill="none" stroke="#000" stroke-width="1.6"/>
<path d="M553.0,694.0 A6 11 9.8 0 1 557.0,675.0" fill="none" stroke="#000" stroke-width="1.5"/>
<path d="M558.5,696.2 A6 11 9.8 0 1 562.5,677.8" fill="none" stroke="#000" stroke-width="1.5"/>
<path d="M564.0,698.4 A6 11 9.8 0 1 568.0,680.5" fill="none" stroke="#000" stroke-width="1.5"/>
<path d="M515.7,269 C522,264 530,261 536,261.5 C540,261.5 543,262.5 544,263.5 L571.2,279 C578,287 583,294 587.4,301.4 C594,307 597,318 592.8,331.2 C588,343 578,354 567,357 C560,358 556,356 553.6,354.2 L541.4,354.2 L517,346 C508,342 501,338 500.8,335.2 C496,330 494,326 494,323 L494,306.8 C496,296 499,290 502.2,285.2 Z" fill="#fff" stroke="#000" stroke-width="4.1" stroke-linejoin="round"/>
<path d="M583.4,302 C575,303 568,306 565.8,309.5 C558,318 553.6,325 553.6,331.2 C552,340 553,347 555,351.5" fill="none" stroke="#000" stroke-width="1.1" stroke-dasharray="4 1.5"/>
<path d="M545.5,279 C538,284 533,289 530.6,294.7 C524,304 520,312 519.8,317.7 C519,326 519,334 519,342" fill="none" stroke="#000" stroke-width="1.1" stroke-dasharray="4 1.5"/>
<path d="M545.5,279 L566,277" stroke="#000" stroke-width="2.2"/>
<line x1="270" y1="568" x2="538.5" y2="339" stroke="#000" stroke-width="20" stroke-linecap="round"/>
<line x1="270" y1="568" x2="538.5" y2="339" stroke="#fff" stroke-width="13.4" stroke-linecap="round"/>
<circle cx="269.5" cy="568" r="36.3" fill="#000"/>
<path d="M269.3,584.8 L278.2,569.3 L280.4,577 L276,589.2 L274,581 Z" fill="#ddd"/>
<line x1="265.5" y1="81" x2="265.5" y2="162.5" stroke="#9a9a9a" stroke-width="2.2" stroke-linecap="round"/>
<line x1="334.6" y1="109" x2="334.6" y2="190" stroke="#000" stroke-width="2.0" stroke-linecap="round"/>
<line x1="423.3" y1="144" x2="423.3" y2="227" stroke="#9a9a9a" stroke-width="2.6" stroke-linecap="round"/>
<line x1="556.7" y1="193.5" x2="892" y2="193.5" stroke="#000" stroke-width="2.9" stroke-linecap="round"/>
<line x1="546" y1="278.7" x2="892" y2="278.7" stroke="#000" stroke-width="2.9" stroke-linecap="round"/>
<polyline points="490,375 621,375 621,331.5 892,331.5" fill="none" stroke="#000" stroke-width="2.9" stroke-linecap="round"/>
<line x1="550" y1="394" x2="892" y2="394" stroke="#9a9a9a" stroke-width="2.6"/>
<line x1="511.5" y1="456" x2="550.5" y2="394" stroke="#111" stroke-width="1.3" stroke-dasharray="4 1"/>
<line x1="617.6" y1="535" x2="892" y2="535" stroke="#000" stroke-width="2.9" stroke-linecap="round"/>
<line x1="276.5" y1="603" x2="276.5" y2="640" stroke="#9a9a9a" stroke-width="2.4" stroke-linecap="round"/>
<line x1="358.5" y1="570" x2="358.5" y2="638" stroke="#9a9a9a" stroke-width="2.2" stroke-linecap="round"/>
<line x1="423.4" y1="607" x2="423.4" y2="683" stroke="#9a9a9a" stroke-width="2.2" stroke-linecap="round"/>
<line x1="529.6" y1="667" x2="529.6" y2="747" stroke="#000" stroke-width="2.0" stroke-linecap="round"/>
<line x1="232.8" y1="546" x2="232.8" y2="597" stroke="#ddd" stroke-width="1.2" stroke-linecap="round"/>
<line x1="300" y1="3" x2="304.5" y2="7" stroke="#ccc" stroke-width="1.6" stroke-linecap="round"/>
<text transform="translate(393.2 128.6) scale(1.05 1)" font-family="Liberation Sans" font-size="58.3" letter-spacing="-3.07" fill="#000" stroke="#fff" stroke-width="1.4">22</text>
</svg>

</body></html>
